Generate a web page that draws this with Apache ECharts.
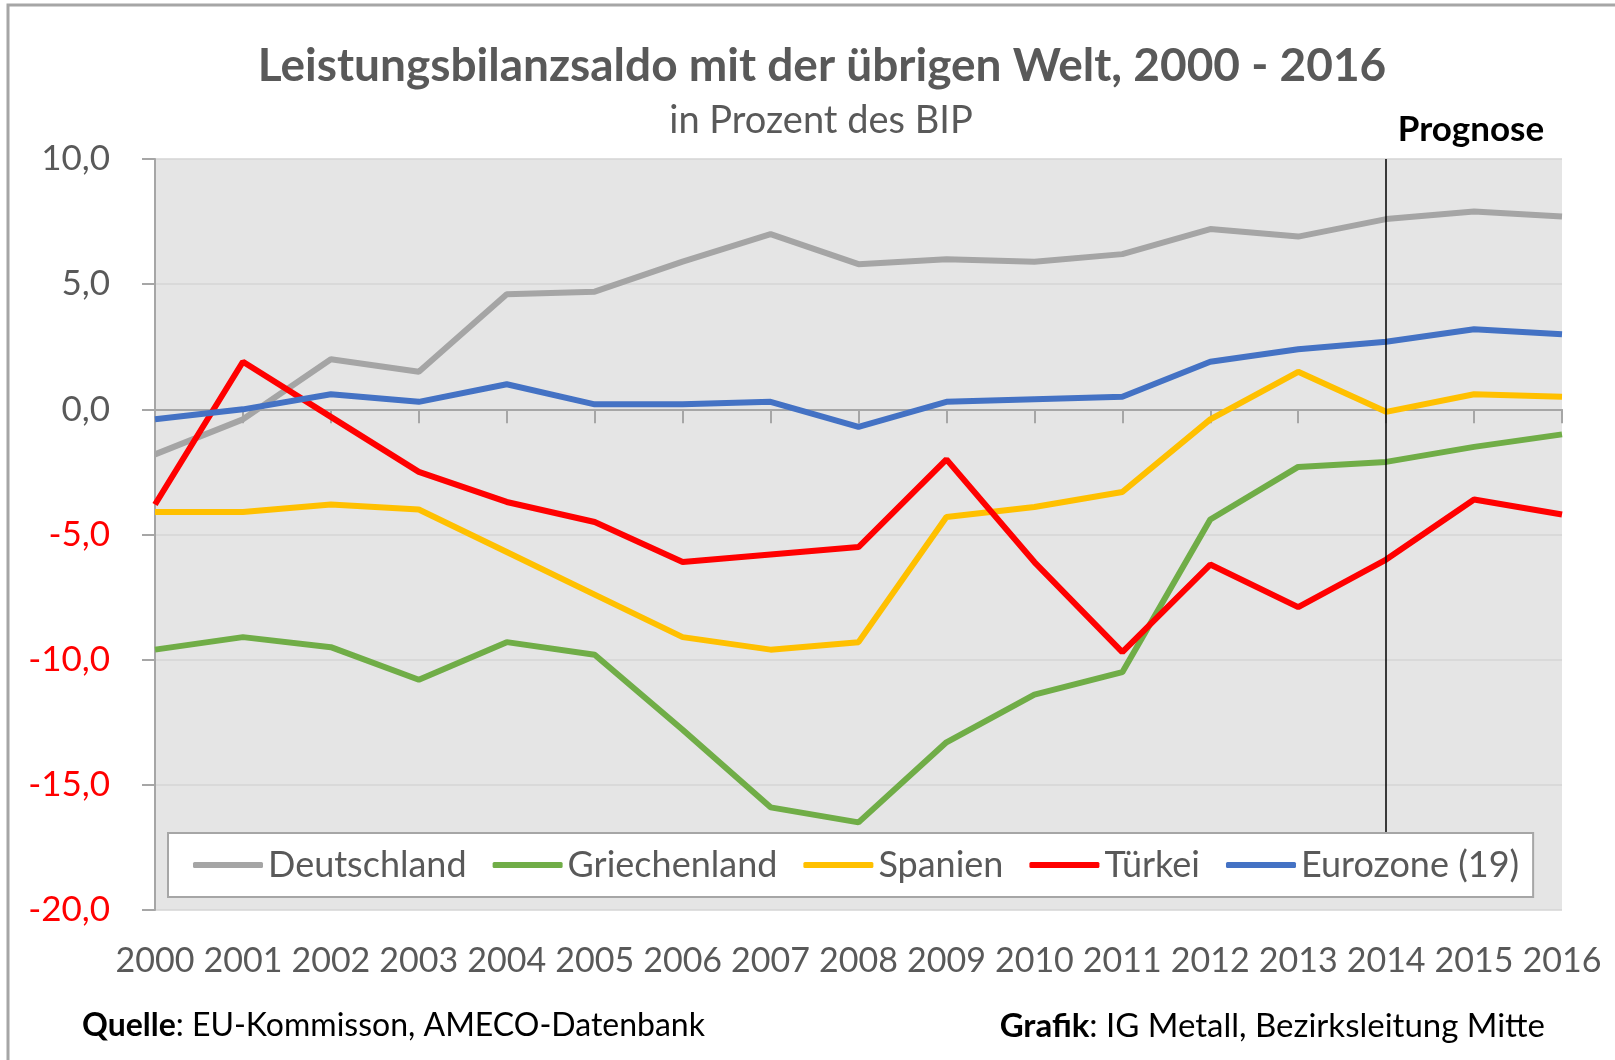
<!DOCTYPE html>
<html>
<head>
<meta charset="utf-8">
<script src="https://cdn.jsdelivr.net/npm/echarts@6/dist/echarts.min.js"></script>
<style>
  html, body { margin: 0; padding: 0; background: #fff; }
  #chart { width: 1615px; height: 1060px; }
</style>
</head>
<body>
<div id="chart"></div>
<script>
// Jahre und Werte (Leistungsbilanzsaldo in % des BIP)
const years = ['2000', '2001', '2002', '2003', '2004', '2005', '2006', '2007', '2008',
  '2009', '2010', '2011', '2012', '2013', '2014', '2015', '2016'];
const deutschland = [-1.8, -0.4, 2.0, 1.5, 4.6, 4.7, 5.9, 7.0, 5.8, 6.0, 5.9, 6.2, 7.2, 6.9, 7.6, 7.9, 7.7];
const griechenland = [-9.6, -9.1, -9.5, -10.8, -9.3, -9.8, -12.8, -15.9, -16.5, -13.3, -11.4, -10.5, -4.4, -2.3, -2.1, -1.5, -1.0];
const spanien = [-4.1, -4.1, -3.8, -4.0, -5.7, -7.4, -9.1, -9.6, -9.3, -4.3, -3.9, -3.3, -0.4, 1.5, -0.1, 0.6, 0.5];
const tuerkei = [-3.8, 1.9, -0.3, -2.5, -3.7, -4.5, -6.1, -5.8, -5.5, -2.0, -6.1, -9.7, -6.2, -7.9, -6.0, -3.6, -4.2];
const eurozone = [-0.4, 0.0, 0.6, 0.3, 1.0, 0.2, 0.2, 0.3, -0.7, 0.3, 0.4, 0.5, 1.9, 2.4, 2.7, 3.2, 3.0];
const prognoseYear = '2014';
// Prognose-Linie: von oben bis zur Oberkante der Legende
const prognoseRange = [10, -16.9];

const FONT = 'Lato';
const GREY_TEXT = '#595959';
const AXIS_GREY = '#a6a6a6';

const makeSeries = (name, data, color) => ({
  name: name,
  type: 'line',
  data: data,
  symbol: 'none',
  itemStyle: { color: color },
  lineStyle: { color: color, width: 6 }
});

const series = [
  makeSeries('Deutschland', deutschland, '#a5a5a5'),
  makeSeries('Griechenland', griechenland, '#70ad47'),
  makeSeries('Spanien', spanien, '#ffc000'),
  makeSeries('Türkei', tuerkei, '#ff0000'),
  makeSeries('Eurozone (19)', eurozone, '#4472c4')
];
series[0].markLine = {
  silent: true,
  symbol: 'none',
  label: { show: false },
  lineStyle: { color: '#000', width: 1.5, type: 'solid' },
  data: [[
    { coord: [prognoseYear, prognoseRange[0]] },
    { coord: [prognoseYear, prognoseRange[1]] }
  ]]
};

const chart = echarts.init(document.getElementById('chart'));
const option = {
  animation: false,
  backgroundColor: '#fff',
  grid: {
    left: 155, right: 53, top: 159, bottom: 150,
    show: true, backgroundColor: '#e5e5e5', borderWidth: 0
  },
  legend: {
    z: 20,
    left: 168, top: 833,
    icon: 'roundRect',
    itemWidth: 70, itemHeight: 6, itemGap: 26,
    padding: [14, 14, 14, 25],
    backgroundColor: '#fff',
    borderColor: AXIS_GREY, borderWidth: 2,
    textStyle: { fontFamily: FONT, fontSize: 36, color: GREY_TEXT }
  },
  xAxis: [
    {
      type: 'category', data: years, boundaryGap: false, position: 'bottom',
      axisLine: { show: false, onZero: false },
      axisTick: { show: false },
      axisLabel: { interval: 0, margin: 34, fontFamily: FONT, fontSize: 34, color: GREY_TEXT }
    },
    {
      type: 'category', data: years, boundaryGap: false, position: 'bottom',
      axisLine: { show: true, onZero: true, lineStyle: { color: AXIS_GREY, width: 2 } },
      axisTick: { show: true, interval: 0, length: 14, lineStyle: { color: AXIS_GREY, width: 2 } },
      axisLabel: { show: false },
      splitLine: { show: false }
    }
  ],
  yAxis: {
    type: 'value', min: -20, max: 10, interval: 5,
    axisLine: { show: true, onZero: false, lineStyle: { color: AXIS_GREY, width: 2 } },
    axisTick: { show: true, length: 13, lineStyle: { color: AXIS_GREY, width: 2 } },
    splitLine: { lineStyle: { color: '#d4d4d4', width: 1.5 } },
    axisLabel: {
      margin: 45,
      fontFamily: FONT, fontSize: 35, color: GREY_TEXT,
      formatter: function (v) {
        const s = v.toFixed(1).replace('.', ',');
        return v < 0 ? '{neg|' + s + '}' : s;
      },
      rich: { neg: { color: '#ff0000', fontFamily: FONT, fontSize: 35 } }
    }
  },
  graphic: [
    {
      type: 'polyline', silent: true,
      shape: { points: [[8, 1060], [8, 5], [1615, 5]] },
      style: { stroke: AXIS_GREY, lineWidth: 3, fill: null }
    },
    {
      type: 'text', x: 822, y: 66,
      style: { text: 'Leistungsbilanzsaldo mit der übrigen Welt, 2000 - 2016', font: 'bold 46px Lato',
        fill: GREY_TEXT, align: 'center', verticalAlign: 'middle' }
    },
    {
      type: 'text', x: 821, y: 121,
      style: { text: 'in Prozent des BIP', font: '38px Lato', fill: GREY_TEXT, align: 'center', verticalAlign: 'middle' }
    },
    {
      type: 'text', x: 1471, y: 130,
      style: { text: 'Prognose', font: 'bold 35px Lato', fill: '#000', align: 'center', verticalAlign: 'middle' }
    },
    {
      type: 'text', x: 82, y: 1026,
      style: {
        text: '{b|Quelle}: EU-Kommisson, AMECO-Datenbank', font: '32px Lato', fill: '#000',
        align: 'left', verticalAlign: 'middle',
        rich: { b: { fontFamily: FONT, fontSize: 32, fontWeight: 'bold', fill: '#000' } }
      }
    },
    {
      type: 'text', x: 1545, y: 1026,
      style: {
        text: '{b|Grafik}: IG Metall, Bezirksleitung Mitte', font: '33px Lato', fill: '#000',
        align: 'right', verticalAlign: 'middle',
        rich: { b: { fontFamily: FONT, fontSize: 33, fontWeight: 'bold', fill: '#000' } }
      }
    }
  ],
  series: series
};
chart.setOption(option);
</script>
</body>
</html>
